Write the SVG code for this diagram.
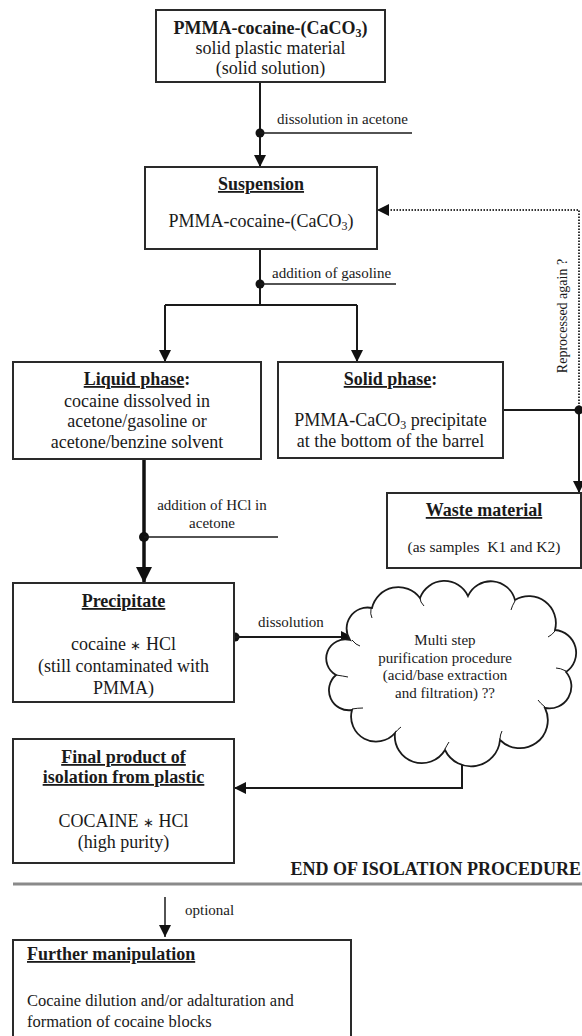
<svg xmlns="http://www.w3.org/2000/svg" width="582" height="1036" viewBox="0 0 582 1036">
<style>
text{font-family:"Liberation Serif","Times New Roman",serif;fill:#1a1a1a}
.t{font-size:18px;text-anchor:middle}
.l{font-size:18px}
.b{font-weight:bold}
.u{text-decoration:underline}
.lbl{font-size:15px}
.box{fill:#fff;stroke:#2a2a2a;stroke-width:2}
.ln{fill:none;stroke:#1a1a1a;stroke-width:2}
.thin{fill:none;stroke:#1a1a1a;stroke-width:1.5}
.dot{fill:#111}
.ast{font-size:13px}
</style>
<defs>
<marker id="ah" markerUnits="userSpaceOnUse" markerWidth="12" markerHeight="12" viewBox="0 0 12 12" refX="12" refY="6" orient="auto"><path d="M0,0 L12,6 L0,12 Z" fill="#111"/></marker>
<marker id="ahB" markerUnits="userSpaceOnUse" markerWidth="16" markerHeight="16" viewBox="0 0 16 16" refX="16" refY="8" orient="auto"><path d="M0,0 L16,8 L0,16 Z" fill="#111"/></marker>
</defs>
<rect width="582" height="1036" fill="#fff"/>

<g id="connectors">
<path class="ln" d="M260,82 V167" marker-end="url(#ah)"/>
<circle class="dot" cx="260" cy="133" r="4.5"/>
<path class="thin" d="M260,133 H412"/>
<text class="lbl" x="277" y="124">dissolution in acetone</text>

<path class="ln" d="M260,249 V305"/>
<circle class="dot" cx="260" cy="284" r="4.5"/>
<path class="thin" d="M260,284 H396"/>
<text class="lbl" x="272" y="278">addition of gasoline</text>
<path class="ln" d="M165,305 H357"/>
<path class="ln" d="M165,305 V362" marker-end="url(#ah)"/>
<path class="ln" d="M357,305 V362" marker-end="url(#ah)"/>

<path class="ln" d="M503,410 H579"/>
<path fill="none" stroke="#333" stroke-width="2" stroke-dasharray="1.5,1.5" d="M579,410 V210 H377" marker-end="url(#ah)"/>
<path class="ln" d="M579,410 V493" marker-end="url(#ah)"/>
<circle class="dot" cx="579" cy="410" r="4.5"/>
<text text-anchor="middle" transform="translate(567,316) rotate(-90)" style="font-size:14px">Reprocessed again ?</text>

<path fill="none" stroke="#111" stroke-width="3.5" d="M144,459 V583" marker-end="url(#ahB)"/>
<circle class="dot" cx="144" cy="537" r="5"/>
<path class="thin" d="M144,537 H278"/>
<text class="lbl" x="212" y="510" text-anchor="middle">addition of HCl in</text>
<text class="lbl" x="212" y="528" text-anchor="middle">acetone</text>

<circle class="dot" cx="235" cy="637" r="4.5"/>
<path class="ln" d="M234,637 H353" marker-end="url(#ah)"/>
<text class="lbl" x="258" y="627">dissolution</text>

<path class="ln" d="M462,752 V788 H234" marker-end="url(#ah)"/>

<path class="ln" d="M165,897 V937" marker-end="url(#ah)" style="stroke-width:1.5"/>
<text class="lbl" x="185" y="915">optional</text>
</g>

<g id="divider">
<path d="M13,884 H582" stroke="#8a8a8a" stroke-width="3" fill="none"/>
<text class="l b" x="581" y="875" text-anchor="end">END OF ISOLATION PROCEDURE</text>
</g>

<g id="node-start">
<rect class="box" x="156" y="10" width="229" height="72"/>
<text class="t b" x="270.5" y="34">PMMA-cocaine-(CaCO<tspan font-size="12" dy="3">3</tspan><tspan dy="-3">)</tspan></text>
<text class="t" x="270.5" y="54">solid plastic material</text>
<text class="t" x="270.5" y="74">(solid solution)</text>
</g>

<g id="node-suspension">
<rect class="box" x="145" y="167" width="232" height="82"/>
<text class="t b u" x="261" y="190">Suspension</text>
<text class="t" x="261" y="227">PMMA-cocaine-(CaCO<tspan font-size="12" dy="3">3</tspan><tspan dy="-3">)</tspan></text>
</g>

<g id="node-liquid">
<rect class="box" x="13" y="362" width="248" height="97"/>
<text class="t" x="137" y="385"><tspan class="b u">Liquid phase</tspan><tspan class="b">:</tspan></text>
<text class="t" x="137" y="407">cocaine dissolved in</text>
<text class="t" x="137" y="427">acetone/gasoline or</text>
<text class="t" x="137" y="448">acetone/benzine solvent</text>
</g>

<g id="node-solid">
<rect class="box" x="278" y="362" width="225" height="96"/>
<text class="t" x="390.5" y="385"><tspan class="b u">Solid phase</tspan><tspan class="b">:</tspan></text>
<text class="t" x="390.5" y="426">PMMA-CaCO<tspan font-size="12" dy="3">3</tspan><tspan dy="-3"> precipitate</tspan></text>
<text class="t" x="390.5" y="447">at the bottom of the barrel</text>
</g>

<g id="node-waste">
<rect class="box" x="387" y="493" width="194" height="75"/>
<text class="t b u" x="484" y="516">Waste material</text>
<text class="t" x="484" y="552" style="font-size:15.5px" xml:space="preserve">(as samples  K1 and K2)</text>
</g>

<g id="node-precipitate">
<rect class="box" x="13" y="583" width="221" height="119"/>
<text class="t b u" x="123.5" y="607">Precipitate</text>
<text class="t" x="123.5" y="650">cocaine <tspan class="ast">∗</tspan> HCl</text>
<text class="t" x="123.5" y="672">(still contaminated with</text>
<text class="t" x="123.5" y="694">PMMA)</text>
</g>

<g id="node-cloud">
<path fill="#fff" stroke="#1a1a1a" stroke-width="1.8" d="M350,640 A21,21 0 0 1 372,608 A27,27 0 0 1 420,598 A26,26 0 0 1 468,596 A25,25 0 0 1 515,600 A27,27 0 0 1 555,630 A23,23 0 0 1 566,672 A22,22 0 0 1 545,708 A28,28 0 0 1 500,740 A29,29 0 0 1 445,750 A27,27 0 0 1 395,733 A25,25 0 0 1 352,710 A20,20 0 0 1 336,675 A19,19 0 0 1 350,640 Z"/>
<path fill="none" stroke="#1a1a1a" stroke-width="1" d="M352,640 Q356,645 360,646 M371,609 Q370,614 372,618 M420,598 Q420,602 424,606 M515,601 Q512,606 511,610 M555,631 Q552,635 548,637 M566,671 Q560,668 556,668 M545,707 Q540,703 538,700 M500,739 Q500,735 502,731 M445,749 Q447,745 449,742 M395,733 Q398,729 401,727 M352,709 Q358,708 363,708 M336,675 Q343,676 348,677"/>
<text class="t" x="445" y="645" style="font-size:15px">Multi step</text>
<text class="t" x="445" y="663" style="font-size:15px">purification procedure</text>
<text class="t" x="445" y="680" style="font-size:15px">(acid/base extraction</text>
<text class="t" x="445" y="698" style="font-size:15px">and filtration) ??</text>
</g>

<g id="node-final">
<rect class="box" x="13" y="739" width="221" height="124"/>
<text class="t b u" x="123.5" y="763">Final product of</text>
<text class="t b u" x="123.5" y="783">isolation from plastic</text>
<text class="t" x="123.5" y="827">COCAINE <tspan class="ast">∗</tspan> HCl</text>
<text class="t" x="123.5" y="848">(high purity)</text>
</g>

<g id="node-further">
<rect class="box" x="13" y="940" width="338" height="110"/>
<text class="l b u" x="27" y="960">Further manipulation</text>
<text class="l" x="27" y="1006" style="font-size:16.5px">Cocaine dilution and/or adalturation and</text>
<text class="l" x="27" y="1027" style="font-size:16.5px">formation of cocaine blocks</text>
</g>
</svg>
